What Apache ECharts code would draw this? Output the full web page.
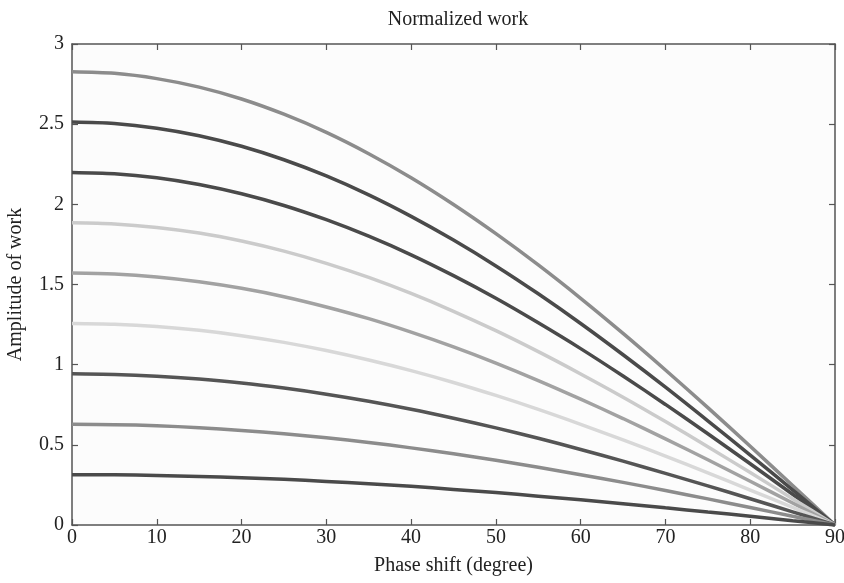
<!DOCTYPE html>
<html>
<head>
<meta charset="utf-8">
<script src="https://cdn.jsdelivr.net/npm/echarts@6/dist/echarts.min.js"></script>
<style>
  html, body { margin: 0; padding: 0; background: #ffffff; }
  #chart { width: 844px; height: 583px; }
</style>
</head>
<body>
<div id="chart"></div>
<script>
// Phase shift in degrees (x values)
const phase = [0, 5, 10, 15, 20, 25, 30, 35, 40, 45, 50, 55, 60, 65, 70, 75, 80, 85, 90];

// Amplitude of work for each curve, top to bottom
const work9 = [2.827, 2.817, 2.784, 2.731, 2.657, 2.562, 2.449, 2.316, 2.166, 1.999, 1.817, 1.622, 1.414, 1.195, 0.967, 0.732, 0.491, 0.246, 0];
const work8 = [2.513, 2.504, 2.475, 2.428, 2.362, 2.278, 2.177, 2.059, 1.925, 1.777, 1.616, 1.442, 1.257, 1.062, 0.860, 0.650, 0.436, 0.219, 0];
const work7 = [2.199, 2.191, 2.166, 2.124, 2.066, 1.993, 1.904, 1.801, 1.685, 1.555, 1.414, 1.261, 1.100, 0.929, 0.752, 0.569, 0.382, 0.192, 0];
const work6 = [1.885, 1.878, 1.856, 1.821, 1.771, 1.708, 1.632, 1.544, 1.444, 1.333, 1.212, 1.081, 0.942, 0.797, 0.645, 0.488, 0.327, 0.164, 0];
const work5 = [1.571, 1.565, 1.547, 1.517, 1.476, 1.424, 1.360, 1.287, 1.203, 1.111, 1.010, 0.901, 0.785, 0.664, 0.537, 0.407, 0.273, 0.137, 0];
const work4 = [1.257, 1.252, 1.238, 1.214, 1.181, 1.139, 1.088, 1.029, 0.963, 0.889, 0.808, 0.721, 0.628, 0.531, 0.430, 0.325, 0.218, 0.110, 0];
const work3 = [0.943, 0.939, 0.928, 0.910, 0.886, 0.854, 0.816, 0.772, 0.722, 0.666, 0.606, 0.541, 0.471, 0.398, 0.322, 0.244, 0.164, 0.082, 0];
const work2 = [0.628, 0.626, 0.619, 0.607, 0.590, 0.569, 0.544, 0.515, 0.481, 0.444, 0.404, 0.360, 0.314, 0.266, 0.215, 0.163, 0.109, 0.055, 0];
const work1 = [0.314, 0.313, 0.309, 0.303, 0.295, 0.285, 0.272, 0.257, 0.241, 0.222, 0.202, 0.180, 0.157, 0.133, 0.107, 0.081, 0.055, 0.027, 0];

const curves = [work9, work8, work7, work6, work5, work4, work3, work2, work1];
const shades = ['#8c8c8c', '#4a4a4a', '#4a4a4a', '#cbcbcb', '#a2a2a2', '#d8d8d8', '#555555', '#8c8c8c', '#4a4a4a'];

const serif = '"Liberation Serif", "DejaVu Serif", serif';
const frame = '#555555';
const ink = '#222222';

const series = curves.map((vals, i) => ({
  type: 'line',
  smooth: 0.3,
  symbol: 'none',
  xAxisIndex: 0,
  yAxisIndex: 0,
  lineStyle: { color: shades[i], width: 3.5 },
  data: phase.map((p, j) => [p, vals[j]])
}));

const chart = echarts.init(document.getElementById('chart'), null, { renderer: 'canvas' });

const baseX = {
  type: 'value', min: 0, max: 90, interval: 10,
  axisLine: { show: true, onZero: false, lineStyle: { color: frame, width: 1.5 } },
  axisTick: { show: true, inside: true, length: 6, lineStyle: { color: frame, width: 1.2 } },
  splitLine: { show: false }
};
const baseY = {
  type: 'value', min: 0, max: 3, interval: 0.5,
  axisLine: { show: true, onZero: false, lineStyle: { color: frame, width: 1.5 } },
  axisTick: { show: true, inside: true, length: 6, lineStyle: { color: frame, width: 1.2 } },
  splitLine: { show: false }
};

chart.setOption({
  animation: false,
  backgroundColor: '#ffffff',
  title: {
    text: 'Normalized work',
    left: 453, top: 5, textAlign: 'center',
    textStyle: { fontFamily: serif, fontSize: 20, fontWeight: 'normal', color: ink }
  },
  grid: {
    left: 72, right: 9, top: 44, bottom: 58,
    outerBoundsMode: 'none',
    containLabel: false,
    show: true, backgroundColor: '#fcfcfc', borderWidth: 0
  },
  xAxis: [
    Object.assign({}, baseX, {
      position: 'bottom',
      name: 'Phase shift (degree)', nameLocation: 'middle', nameGap: 31,
      nameTextStyle: { fontFamily: serif, fontSize: 20, color: ink },
      axisLabel: { fontFamily: serif, fontSize: 20, color: ink, margin: 3 }
    }),
    Object.assign({}, baseX, { position: 'top', axisLabel: { show: false } })
  ],
  yAxis: [
    Object.assign({}, baseY, {
      position: 'left',
      name: 'Amplitude of work', nameLocation: 'middle', nameGap: 46,
      nameTextStyle: { fontFamily: serif, fontSize: 20, color: ink },
      axisLabel: { fontFamily: serif, fontSize: 20, color: ink, margin: 8 }
    }),
    Object.assign({}, baseY, { position: 'right', axisLabel: { show: false } })
  ],
  series: series
});
</script>
</body>
</html>
